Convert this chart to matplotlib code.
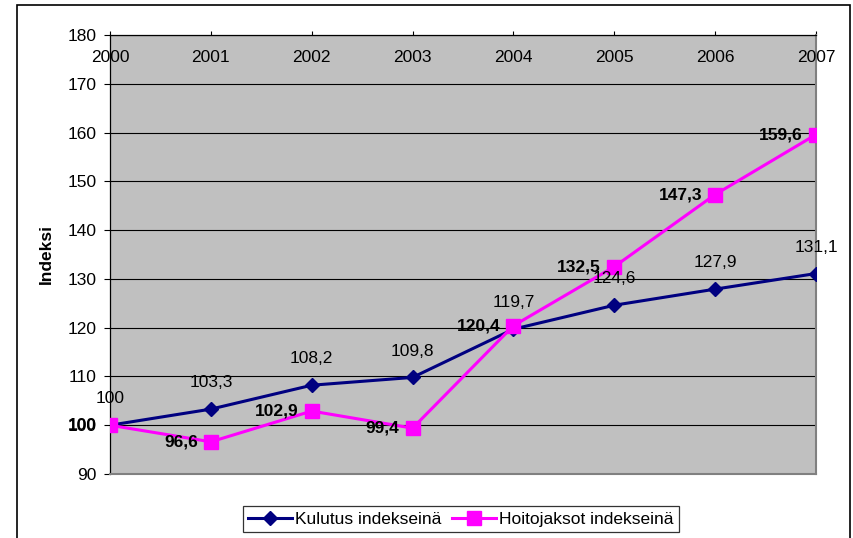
import numpy as np
import matplotlib.pyplot as plt
from matplotlib.patches import Rectangle

plt.rcParams['font.family'] = ['Liberation Sans', 'DejaVu Sans']

vuodet = ["2000", "2001", "2002", "2003", "2004", "2005", "2006", "2007"]
kulutus = [100, 103.3, 108.2, 109.8, 119.7, 124.6, 127.9, 131.1]
hoitojaksot = [100, 96.6, 102.9, 99.4, 120.4, 132.5, 147.3, 159.6]

FS = 12.5

def fi(v):
    # suomalainen desimaalipilkku
    s = ("%g" % v)
    return s.replace(".", ",")

fig = plt.figure(figsize=(8.54, 5.38), dpi=100)
ax = fig.add_axes([110/854, 1-474/538, 706/854, 439/538])
ax.set_facecolor("#C0C0C0")

x = np.arange(len(vuodet))
ax.plot(x, kulutus, color="#000080", lw=2.2, marker="D", ms=7,
        label="Kulutus indekseinä", zorder=3)
ax.plot(x, hoitojaksot, color="#FF00FF", lw=2.2, marker="s", ms=9.5,
        label="Hoitojaksot indekseinä", zorder=4)

for i, v in enumerate(kulutus):
    ax.annotate(fi(v), (x[i], v), xytext=(0, 19), textcoords="offset points",
                ha="center", va="center", fontsize=FS, annotation_clip=False, zorder=5)
for i, v in enumerate(hoitojaksot):
    ax.annotate(fi(v), (x[i], v), xytext=(-9.5, 0), textcoords="offset points",
                ha="right", va="center", fontsize=FS, fontweight="bold",
                annotation_clip=False, zorder=5)

ax.set_xlim(0, 7)
ax.set_ylim(90, 180)
ax.set_yticks(np.arange(90, 181, 10))
ax.tick_params(axis="y", direction="out", length=4, width=0.8, pad=5.5, labelsize=FS)
ax.yaxis.grid(True, color="black", lw=0.8)
ax.set_axisbelow(True)

# vuosiakseli ylhäällä, nimet alueen sisällä
ax.xaxis.tick_top()
ax.set_xticks(x)
ax.set_xticklabels([])
ax.tick_params(axis="x", direction="out", length=3, width=0.8)
for i, lab in enumerate(vuodet):
    ax.text(x[i], 0.948, lab, transform=ax.get_xaxis_transform(),
            ha="center", va="center", fontsize=FS, clip_on=False)

for s in ["left", "top"]:
    ax.spines[s].set_color("black")
    ax.spines[s].set_linewidth(0.9)
for s in ["right", "bottom"]:
    ax.spines[s].set_color("#808080")
    ax.spines[s].set_linewidth(1.5)

ax.set_ylabel("Indeksi", fontsize=FS, fontweight="bold", labelpad=10)

leg = fig.legend(loc="center", bbox_to_anchor=(461/854, 1-519/538), ncol=2,
                 fontsize=FS, frameon=True, fancybox=False, edgecolor="black",
                 handlelength=2.5, handletextpad=0.2, columnspacing=0.6,
                 borderpad=0.3)
leg.get_frame().set_linewidth(0.9)

fig.patches.append(Rectangle((17/854, -0.1), 833/854, 1.1 - 5/538, fill=False,
                             edgecolor="black", lw=1.2, transform=fig.transFigure))

fig.savefig("out.png", dpi=100)
